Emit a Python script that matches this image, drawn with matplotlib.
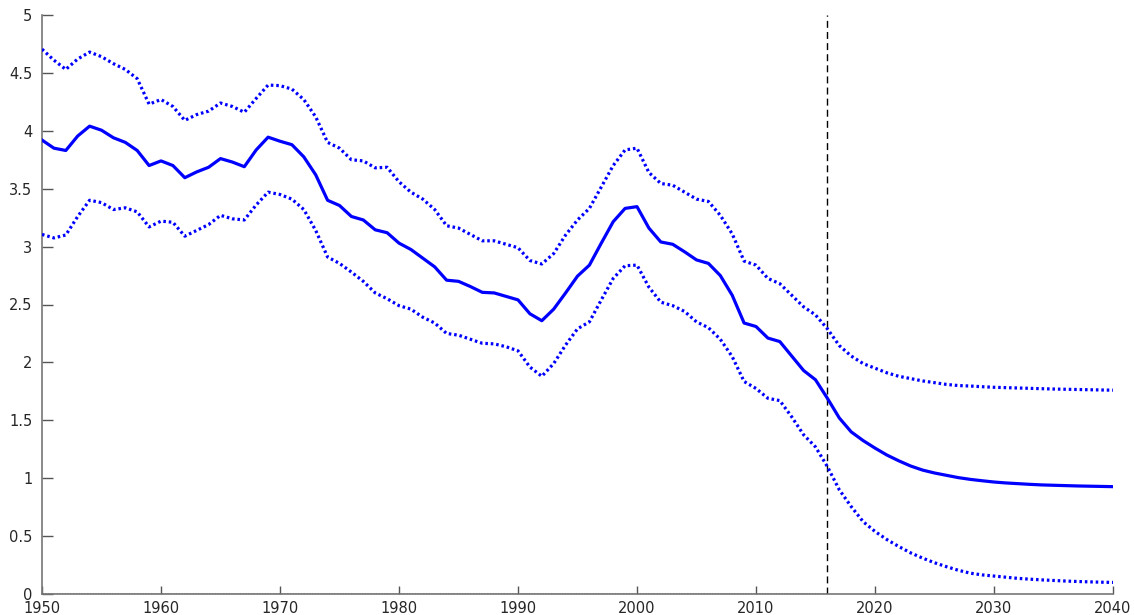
import matplotlib
matplotlib.use("Agg")
import matplotlib.pyplot as plt
import numpy as np

years = list(range(1950, 2041))

central = [
    3.92, 3.85, 3.83, 3.955, 4.04, 4.005, 3.94, 3.90, 3.83, 3.70,
    3.74, 3.70, 3.595, 3.645, 3.685, 3.76, 3.73, 3.69, 3.835, 3.945,
    3.91, 3.88, 3.775, 3.62, 3.40, 3.355, 3.26, 3.23, 3.145, 3.12,
    3.03, 2.975, 2.90, 2.825, 2.71, 2.70, 2.655, 2.605, 2.60, 2.57,
    2.54, 2.42, 2.36, 2.46, 2.60, 2.745, 2.84, 3.03, 3.215, 3.33,
    3.345, 3.16, 3.04, 3.02, 2.955, 2.885, 2.855, 2.75, 2.58, 2.34,
    2.31, 2.21, 2.18, 2.055, 1.93, 1.85, 1.69, 1.52, 1.40, 1.325,
    1.26, 1.20, 1.15, 1.105, 1.07, 1.045, 1.025, 1.005, 0.99, 0.978,
    0.967, 0.959, 0.953, 0.947, 0.942, 0.939, 0.936, 0.933, 0.931, 0.929,
    0.927,
]

upper = [
    4.705, 4.61, 4.53, 4.62, 4.68, 4.64, 4.58, 4.53, 4.45, 4.23,
    4.27, 4.21, 4.09, 4.14, 4.17, 4.24, 4.21, 4.16, 4.28, 4.395,
    4.39, 4.36, 4.27, 4.12, 3.90, 3.85, 3.75, 3.74, 3.68, 3.685,
    3.56, 3.47, 3.41, 3.32, 3.18, 3.16, 3.105, 3.05, 3.05, 3.02,
    2.99, 2.88, 2.85, 2.94, 3.10, 3.23, 3.33, 3.515, 3.70, 3.835,
    3.85, 3.64, 3.545, 3.53, 3.47, 3.41, 3.39, 3.27, 3.11, 2.875,
    2.84, 2.725, 2.68, 2.58, 2.48, 2.41, 2.29, 2.145, 2.055, 1.99,
    1.95, 1.91, 1.88, 1.86, 1.84, 1.825, 1.81, 1.80, 1.796, 1.79,
    1.785, 1.782, 1.779, 1.776, 1.773, 1.77, 1.768, 1.766, 1.764, 1.762,
    1.76,
]

lower = [
    3.105, 3.075, 3.10, 3.26, 3.40, 3.38, 3.32, 3.335, 3.30, 3.17,
    3.22, 3.21, 3.09, 3.14, 3.19, 3.27, 3.24, 3.23, 3.36, 3.47,
    3.45, 3.41, 3.32, 3.14, 2.91, 2.855, 2.78, 2.70, 2.60, 2.55,
    2.49, 2.46, 2.39, 2.34, 2.25, 2.235, 2.20, 2.165, 2.16, 2.135,
    2.10, 1.96, 1.88, 1.99, 2.15, 2.29, 2.35, 2.54, 2.725, 2.835,
    2.84, 2.65, 2.52, 2.49, 2.44, 2.35, 2.30, 2.20, 2.05, 1.835,
    1.775, 1.69, 1.67, 1.53, 1.375, 1.27, 1.10, 0.90, 0.755, 0.625,
    0.54, 0.47, 0.41, 0.355, 0.31, 0.27, 0.236, 0.205, 0.18, 0.165,
    0.155, 0.145, 0.135, 0.128, 0.122, 0.117, 0.112, 0.108, 0.105, 0.102,
    0.10,
]

forecast_start = 2016
xticks = [1950, 1960, 1970, 1980, 1990, 2000, 2010, 2020, 2030, 2040]
yticks = [0, 0.5, 1, 1.5, 2, 2.5, 3, 3.5, 4, 4.5, 5]
ytick_labels = ["0", "0.5", "1", "1.5", "2", "2.5", "3", "3.5", "4", "4.5", "5"]

plt.rcParams['font.family'] = ['DejaVu Sans']

fig = plt.figure(figsize=(11.34, 6.15), dpi=100)
ax = fig.add_axes([42 / 1134, 21 / 615, (1113 - 42) / 1134, (594 - 15) / 615])

blue = '#0000ff'
ax.plot(years, central, color=blue, lw=2.3, solid_joinstyle='round', zorder=3)
ax.plot(years, upper, color=blue, lw=2.3, linestyle=(0, (0.8, 0.9)), zorder=3)
ax.plot(years, lower, color=blue, lw=2.3, linestyle=(0, (0.8, 0.9)), zorder=3)

ax.axvline(forecast_start, ymin=0, ymax=1, color='black', lw=1.0, linestyle=(0, (5, 3)), zorder=2)
ax.plot([years[0], forecast_start], [0, 0], color='#333333', lw=1.0, linestyle=(0, (1, 1)), zorder=4)

ax.set_xlim(1950, 2040)
ax.set_ylim(0, 5)
ax.set_xticks(xticks)
ax.set_yticks(yticks)
ax.set_yticklabels(ytick_labels)

for s in ['top', 'right']:
    ax.spines[s].set_visible(False)
for s in ['left', 'bottom']:
    ax.spines[s].set_color('#777777')
    ax.spines[s].set_linewidth(1.2)

ax.tick_params(axis='y', direction='in', length=8, width=1.0, color='#555555',
               labelsize=10.5, labelcolor='#262626', pad=7)
ax.tick_params(axis='x', direction='in', length=6, width=1.0, color='#555555',
               labelsize=10.5, labelcolor='#262626', pad=5)

fig.savefig('out.png', dpi=100)
